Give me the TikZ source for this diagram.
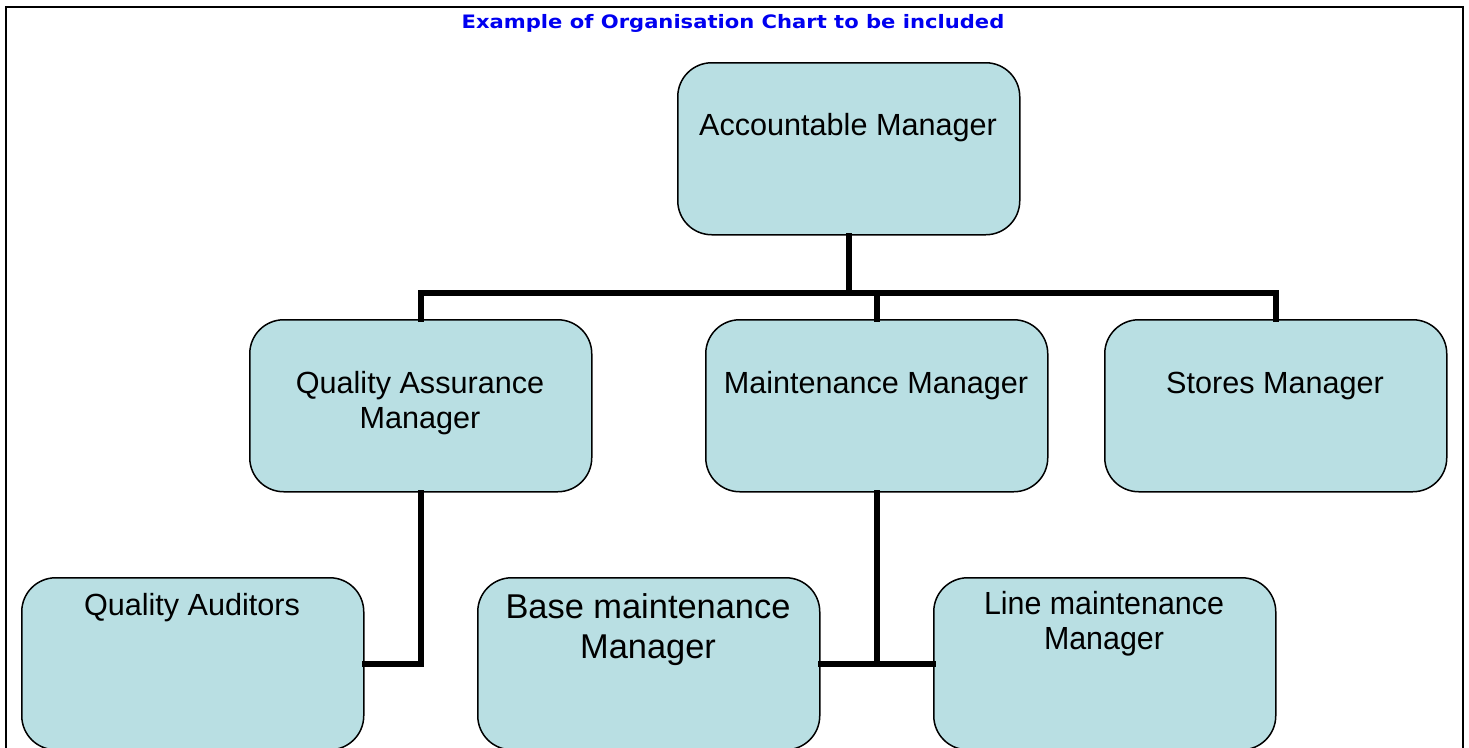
\documentclass[tikz,border=0pt]{standalone}
\usepackage{fontspec}
\setmainfont{Liberation Sans}
\newfontfamily\titlefont[FakeStretch=1.14]{DejaVu Sans}
\newfontfamily\narrowfont[FakeStretch=0.95]{Liberation Sans}
\definecolor{boxfill}{RGB}{185,223,227}
\definecolor{titleblue}{RGB}{0,0,240}
\tikzset{
  orgbox/.style={draw=black, line width=1.5pt, fill=boxfill, rounded corners=34pt,
    minimum width=342pt, minimum height=172pt, inner sep=0pt, anchor=north west},
  boxtext/.style={align=center, font=\fontsize{30.6}{34.5}\selectfont, inner sep=0pt},
  conn/.style={line width=6pt, line cap=rect},
}
\begin{document}
\begin{tikzpicture}[x=1pt,y=-1pt]
\useasboundingbox (0,0) rectangle (1469,747);
\clip (0,0) rectangle (1469,747);
\fill[white] (0,0) rectangle (1469,747);
% frame
\draw[line width=2pt] (6,760) -- (6,7) -- (1463,7) -- (1463,760);
% title
\node[font=\titlefont\bfseries\fontsize{18.5}{21}\selectfont, text=titleblue, inner sep=0pt] (title) at (733,23) {Example of Organisation Chart to be included};
% boxes
\node[orgbox] (acc) at (677,62) {};
\node[orgbox] (qa) at (249,319) {};
\node[orgbox] (mm) at (705,319) {};
\node[orgbox] (st) at (1104,319) {};
\node[orgbox] (qaud) at (21,577) {};
\node[orgbox] (bmm) at (477,577) {};
\node[orgbox] (lmm) at (933,577) {};
% texts
\node[boxtext] (accT) at (848,128) {Accountable Manager};
\node[boxtext] (qaT) at (420,403) {Quality Assurance\\Manager};
\node[boxtext] (mmT) at (876,386) {Maintenance Manager};
\node[boxtext] (stT) at (1275,386) {Stores Manager};
\node[boxtext] (qaudT) at (192,608) {Quality Auditors};
\node[boxtext, font=\fontsize{34.4}{40}\selectfont] (bmmT) at (648,630) {Base maintenance\\Manager};
\node[boxtext, font=\narrowfont\fontsize{32}{35}\selectfont] (lmmT) at (1104,624) {Line maintenance\\Manager};
% connectors
\coordinate (bus) at (848,293);
\draw[conn] (acc.south) -- (acc.south |- bus);
\draw[conn] (qa.north) -- (qa.north |- bus) -- (st.north |- bus) -- (st.north);
\draw[conn] (mm.north) -- (mm.north |- bus);
\draw[conn] (qa.south) |- (qaud.east);
\draw[conn] (mm.south) -- (mm.south |- bmm.east);
\draw[conn] (bmm.east) -- (lmm.west);
\end{tikzpicture}
\end{document}
